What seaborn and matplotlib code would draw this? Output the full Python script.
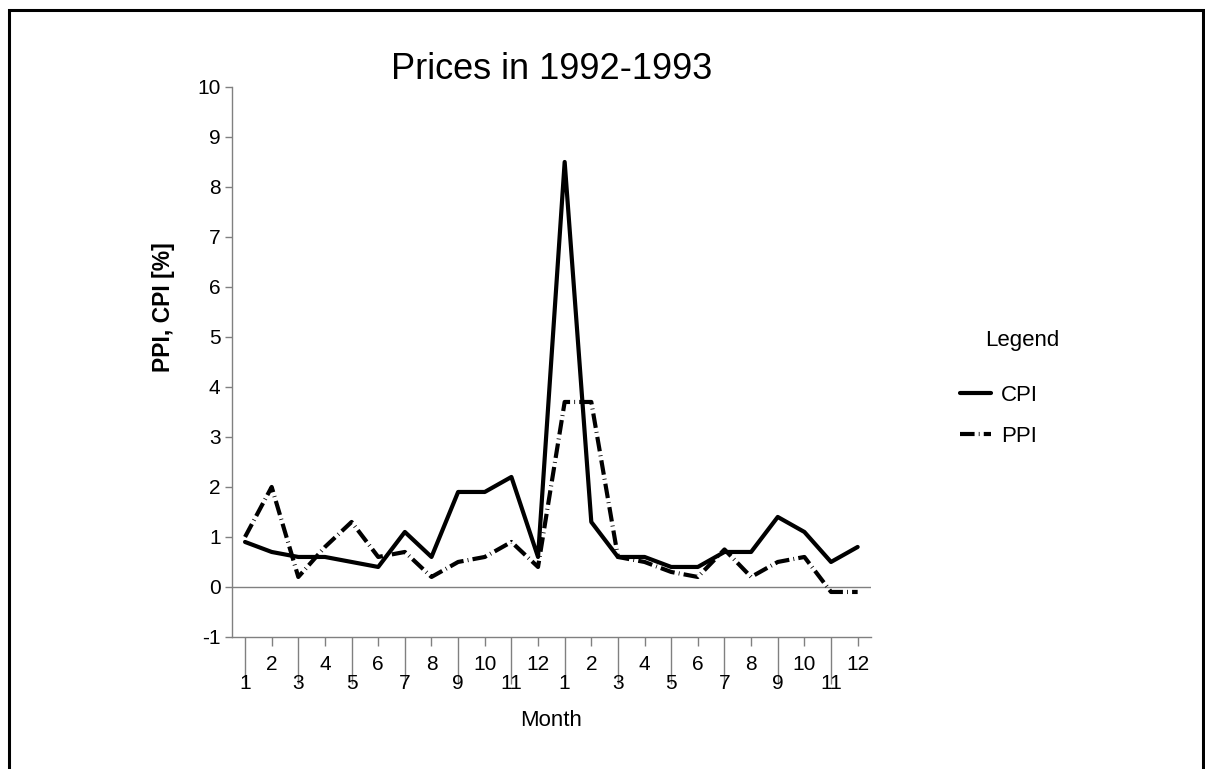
import matplotlib
matplotlib.use("Agg")
import matplotlib.pyplot as plt
from matplotlib.patches import Rectangle
import seaborn as sns
import pandas as pd

# data
months = [1, 2, 3, 4, 5, 6, 7, 8, 9, 10, 11, 12] * 2
cpi = [0.9, 0.7, 0.6, 0.6, 0.5, 0.4, 1.1, 0.6, 1.9, 1.9, 2.2, 0.6,
       8.5, 1.3, 0.6, 0.6, 0.4, 0.4, 0.7, 0.7, 1.4, 1.1, 0.5, 0.8]
ppi = [1.0, 2.0, 0.2, 0.8, 1.3, 0.6, 0.7, 0.2, 0.5, 0.6, 0.9, 0.4,
       3.7, 3.7, 0.6, 0.5, 0.3, 0.2, 0.75, 0.2, 0.5, 0.6, -0.1, -0.1]
series_names = ["CPI", "PPI"]

idx = list(range(1, len(months) + 1))
df = pd.concat([
    pd.DataFrame({"idx": idx, "value": cpi, "series": series_names[0]}),
    pd.DataFrame({"idx": idx, "value": ppi, "series": series_names[1]}),
])

sns.set_style("white")
plt.rcParams["font.family"] = ["Liberation Sans", "DejaVu Sans"]
plt.rcParams["text.color"] = "black"
plt.rcParams["axes.labelcolor"] = "black"
plt.rcParams["axes.unicode_minus"] = False

fig = plt.figure(figsize=(12.05, 7.69), dpi=100)
ax = fig.add_axes([0.1923, 0.1717, 0.5305, 0.7152])

grey = "#808080"
ax.axhline(0, color=grey, lw=1, zorder=1)

sns.lineplot(data=df, x="idx", y="value", hue="series", style="series",
             palette={"CPI": "black", "PPI": "black"},
             dashes={"CPI": "", "PPI": (3.5, 1, 0.2, 1)},
             linewidth=3, ax=ax, zorder=3)

ax.set_xlim(0.5, 24.5)
ax.set_ylim(-1, 10)
ax.set_yticks(range(-1, 11))
ax.tick_params(axis="y", labelsize=15, length=5, width=1, color=grey,
               labelcolor="black", direction="out", left=True, pad=3)

# staggered month labels: odd months on long ticks, even months on short ticks
odd = [i for i in idx if i % 2 == 1]
even = [i for i in idx if i % 2 == 0]
ax.set_xticks(odd, labels=[str(months[i - 1]) for i in odd])
ax.set_xticks(even, labels=[str(months[i - 1]) for i in even], minor=True)
ax.tick_params(axis="x", which="major", labelsize=15, length=34, width=1,
               color=grey, labelcolor="black", direction="out", bottom=True, pad=-7)
ax.tick_params(axis="x", which="minor", labelsize=15, length=6.5, width=1,
               color=grey, labelcolor="black", direction="out", bottom=True, pad=6.5)

for s in ["top", "right"]:
    ax.spines[s].set_visible(False)
for s in ["left", "bottom"]:
    ax.spines[s].set_color(grey)
    ax.spines[s].set_linewidth(1)

ax.set_title("Prices in 1992-1993", fontsize=26, pad=0, color="black")
ax.set_xlabel("Month", fontsize=16, labelpad=12)
ax.set_ylabel("PPI, CPI [%]", fontsize=16.5, fontweight="bold")
ax.yaxis.set_label_coords(-0.089, 0.6)

handles, labels = ax.get_legend_handles_labels()
ax.legend(handles, labels, loc="upper left", bbox_to_anchor=(0.780, 0.525),
          bbox_transform=fig.transFigure, frameon=False, fontsize=16,
          handlelength=1.4, handletextpad=0.45, labelspacing=0.9)
fig.text(0.848, 0.557, "Legend", fontsize=16, ha="center", va="center")

# outer frame
fig.patches.append(Rectangle((0.0075, -0.05), 0.991, 1.037, fill=False,
                             edgecolor="black", lw=2.2,
                             transform=fig.transFigure, figure=fig))

fig.savefig("out.png", dpi=100)
